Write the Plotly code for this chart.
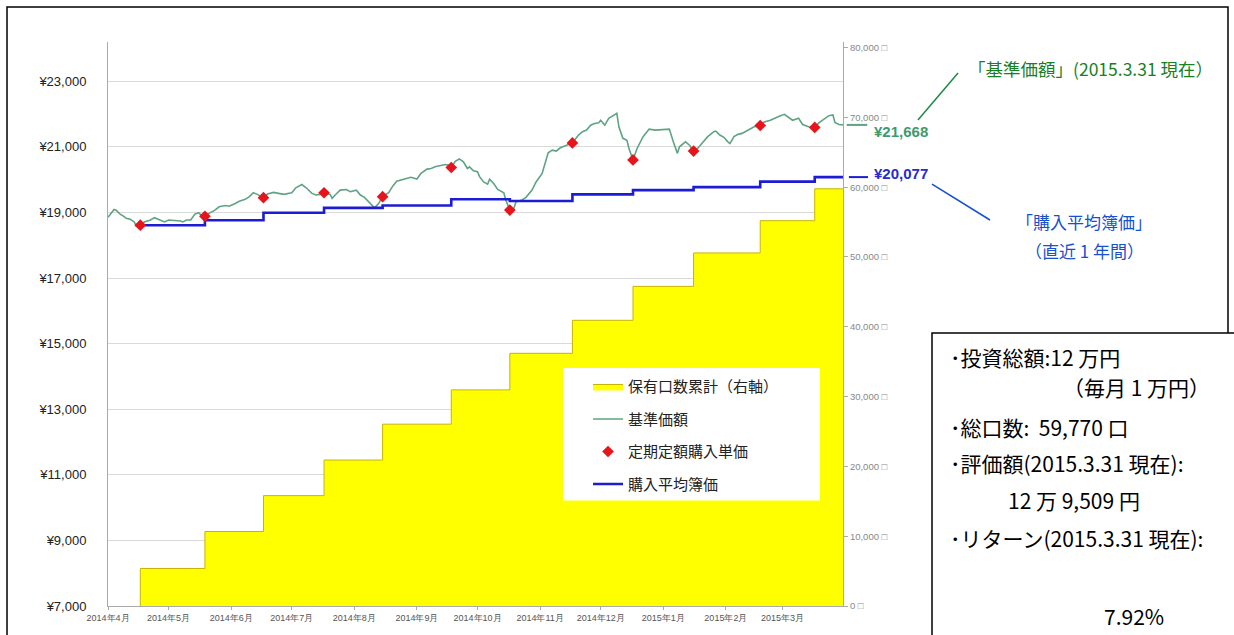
import plotly.graph_objects as go

# 基準価額 (daily NAV, yen per 10,000 units)
nav_dates = [
    "2014-04-01", "2014-04-04", "2014-04-05", "2014-04-07", "2014-04-09", "2014-04-10",
    "2014-04-12", "2014-04-14", "2014-04-15", "2014-04-17", "2014-04-19", "2014-04-22",
    "2014-04-24", "2014-04-27", "2014-04-29", "2014-05-01", "2014-05-03", "2014-05-07",
    "2014-05-08", "2014-05-10", "2014-05-12", "2014-05-14", "2014-05-16", "2014-05-17",
    "2014-05-19", "2014-05-21", "2014-05-24", "2014-05-26", "2014-05-29", "2014-05-31",
    "2014-06-03", "2014-06-05", "2014-06-08", "2014-06-10", "2014-06-12", "2014-06-14",
    "2014-06-17", "2014-06-19", "2014-06-22", "2014-06-25", "2014-06-27", "2014-07-01",
    "2014-07-03", "2014-07-06", "2014-07-08", "2014-07-11", "2014-07-13", "2014-07-15",
    "2014-07-17", "2014-07-20", "2014-07-21", "2014-07-23", "2014-07-25", "2014-07-28",
    "2014-07-30", "2014-08-02", "2014-08-04", "2014-08-06", "2014-08-09", "2014-08-11",
    "2014-08-13", "2014-08-15", "2014-08-18", "2014-08-20", "2014-08-22", "2014-08-24",
    "2014-08-27", "2014-08-29", "2014-09-01", "2014-09-03", "2014-09-06", "2014-09-08",
    "2014-09-10", "2014-09-13", "2014-09-15", "2014-09-17", "2014-09-18", "2014-09-20",
    "2014-09-22", "2014-09-24", "2014-09-26", "2014-09-27", "2014-09-29", "2014-10-01",
    "2014-10-02", "2014-10-04", "2014-10-06", "2014-10-07", "2014-10-09", "2014-10-11",
    "2014-10-14", "2014-10-15", "2014-10-17", "2014-10-19", "2014-10-20", "2014-10-23",
    "2014-10-25", "2014-10-28", "2014-10-30", "2014-11-02", "2014-11-03", "2014-11-05",
    "2014-11-07", "2014-11-09", "2014-11-11", "2014-11-13", "2014-11-17", "2014-11-20",
    "2014-11-22", "2014-11-24", "2014-11-26", "2014-11-28", "2014-11-30", "2014-12-01",
    "2014-12-03", "2014-12-05", "2014-12-07", "2014-12-09", "2014-12-10", "2014-12-12",
    "2014-12-14", "2014-12-15", "2014-12-17", "2014-12-19", "2014-12-22", "2014-12-25",
    "2014-12-28", "2014-12-31", "2015-01-04", "2015-01-06", "2015-01-07", "2015-01-08",
    "2015-01-09", "2015-01-12", "2015-01-14", "2015-01-16", "2015-01-18", "2015-01-21",
    "2015-01-23", "2015-01-26", "2015-01-27", "2015-01-29", "2015-01-31", "2015-02-02",
    "2015-02-03", "2015-02-05", "2015-02-07", "2015-02-09", "2015-02-11", "2015-02-13",
    "2015-02-15", "2015-02-18", "2015-02-20", "2015-02-23", "2015-02-25", "2015-02-28",
    "2015-03-02", "2015-03-04", "2015-03-06", "2015-03-09", "2015-03-11", "2015-03-14",
    "2015-03-17", "2015-03-19", "2015-03-21", "2015-03-24", "2015-03-26", "2015-03-27",
    "2015-03-29", "2015-03-31",
]
nav_values = [
    18850, 19090, 19070, 18950, 18870, 18820,
    18790, 18710, 18580, 18610, 18710, 18770,
    18840, 18770, 18710, 18770, 18760, 18740,
    18710, 18770, 18770, 18950, 18990, 18920,
    18880, 18970, 19070, 19170, 19210, 19190,
    19270, 19340, 19400, 19480, 19600, 19550,
    19450, 19560, 19610, 19580, 19550, 19600,
    19750, 19850, 19760, 19580, 19530, 19550,
    19600, 19550, 19430, 19560, 19680, 19700,
    19630, 19680, 19530, 19460, 19270, 19140,
    19270, 19480, 19600, 19800, 19950, 19980,
    20040, 20070, 20020, 20190, 20320, 20340,
    20390, 20420, 20460, 20440, 20370, 20560,
    20630, 20540, 20340, 20390, 20270, 20240,
    20090, 19930, 19860, 20010, 19880, 19700,
    19600, 19380, 19070, 19120, 19320, 19380,
    19460, 19680, 19930, 20190, 20410, 20820,
    20900, 20870, 20970, 21020, 21120, 21360,
    21460, 21510, 21660, 21710, 21730, 21810,
    21660, 21870, 21940, 22020, 21610, 21260,
    21200, 20950, 20600, 20950, 21310, 21540,
    21510, 21530, 21540, 21150, 20950, 20800,
    21000, 21150, 21050, 20870, 20950, 21170,
    21310, 21460, 21480, 21360, 21290, 21150,
    21100, 21310, 21380, 21410, 21480, 21540,
    21610, 21650, 21760, 21810, 21870, 21950,
    21990, 21910, 21810, 21870, 21680, 21610,
    21590, 21730, 21810, 21950, 21970, 21740,
    21680, 21668,
]

# 定期定額購入 (monthly 10,000-yen purchases)
buy_dates = [
    "2014-04-17", "2014-05-19", "2014-06-17", "2014-07-17", "2014-08-15", "2014-09-18",
    "2014-10-17", "2014-11-17", "2014-12-17", "2015-01-16", "2015-02-18", "2015-03-17",
]
buy_prices = [18610, 18880, 19450, 19600, 19480, 20370, 19070, 21120, 20600, 20870, 21650, 21590]
cum_units = [5370, 10670, 15810, 20910, 26050, 30960, 36200, 40930, 45790, 50580, 55200, 59770]
avg_cost = [18610, 18760, 18990, 19140, 19210, 19400, 19350, 19550, 19680, 19770, 19940, 20077]
end_date = "2015-03-31"
start_date = "2014-04-01"

latest_nav = 21668
latest_avg = 20077

month_ticks = [
    "2014-04-01", "2014-05-01", "2014-06-01", "2014-07-01", "2014-08-01", "2014-09-01",
    "2014-10-01", "2014-11-01", "2014-12-01", "2015-01-01", "2015-02-01", "2015-03-01",
]
month_labels = [
    "2014年4月", "2014年5月", "2014年6月", "2014年7月", "2014年8月", "2014年9月",
    "2014年10月", "2014年11月", "2014年12月", "2015年1月", "2015年2月", "2015年3月",
]
price_ticks = [7000, 9000, 11000, 13000, 15000, 17000, 19000, 21000, 23000]
price_labels = ["¥{:,}".format(v) for v in price_ticks]
unit_ticks = [0, 10000, 20000, 30000, 40000, 50000, 60000, 70000, 80000]
unit_labels = ["{:,} □".format(v) for v in unit_ticks]

GREEN = "#5ea483"
BLUE = "#1c1cd4"
JP = "Noto Sans CJK JP, sans-serif"
LAT = "Liberation Sans, Arial, sans-serif"

fig = go.Figure()

# cumulative units held (right axis) - base subplot, drawn beneath the price lines
fig.add_trace(go.Scatter(
    x=[buy_dates[0]] + buy_dates + [end_date],
    y=[0] + cum_units + [cum_units[-1]],
    mode="lines", line_shape="hv",
    line=dict(color="#c9b400", width=1),
    fill="tozeroy", fillcolor="#ffff00",
    name="保有口数累計（右軸）", legendgroup="a", legendrank=1,
    yaxis="y",
))
fig.add_trace(go.Scatter(
    x=nav_dates, y=nav_values, mode="lines",
    line=dict(color=GREEN, width=1.6),
    name="基準価額", legendgroup="b", legendrank=2,
    yaxis="y2",
))
fig.add_trace(go.Scatter(
    x=buy_dates + [end_date], y=avg_cost + [avg_cost[-1]],
    mode="lines", line_shape="hv",
    line=dict(color=BLUE, width=2.6),
    name="購入平均簿価", legendgroup="d", legendrank=4,
    yaxis="y2",
))
fig.add_trace(go.Scatter(
    x=buy_dates, y=buy_prices, mode="markers",
    marker=dict(symbol="diamond", color="#e8141c", size=9),
    name="定期定額購入単価", legendgroup="c", legendrank=3,
    yaxis="y2",
))

fig.update_layout(
    width=1234, height=635,
    margin=dict(l=108, r=391, t=42, b=29),
    paper_bgcolor="white", plot_bgcolor="white",
    showlegend=True, hovermode=False,
    legend=dict(
        x=0.6531, y=0.418, xanchor="left", yanchor="top",
        bgcolor="rgba(0,0,0,0)", borderwidth=0,
        font=dict(family=JP, size=15, color="#222"),
        tracegroupgap=10, itemwidth=30,
    ),
    xaxis=dict(
        type="date", range=[start_date, end_date],
        tickvals=month_ticks, ticktext=month_labels,
        tickfont=dict(family=LAT, size=9, color="#555"),
        showline=True, linecolor="#aaaaaa", linewidth=1,
        ticks="outside", ticklen=3, tickcolor="#aaaaaa",
        showgrid=False, zeroline=False, anchor="y",
    ),
    yaxis=dict(
        range=[0, 80800], side="right",
        tickvals=unit_ticks, ticktext=unit_labels,
        tickfont=dict(family=LAT, size=9.5, color="#888"),
        showline=True, linecolor="#aaaaaa", linewidth=1,
        ticks="outside", ticklen=4, tickcolor="#aaaaaa",
        showgrid=False, zeroline=False,
    ),
    yaxis2=dict(
        range=[7000, 24196], side="left", overlaying="y",
        tickvals=price_ticks, ticktext=price_labels,
        tickfont=dict(family=LAT, size=13, color="#222"),
        showline=True, linecolor="#aaaaaa", linewidth=1,
        ticks="", ticklabelstandoff=18,
        showgrid=True, gridcolor="#d9d9d9", gridwidth=1, zeroline=False,
    ),
)

shapes = [
    # outer frame
    dict(type="rect", xref="paper", yref="paper", x0=-0.1374, x1=1.5238, y0=-0.1, y1=1.0621,
         line=dict(color="black", width=1.5), fillcolor="rgba(0,0,0,0)", layer="above"),
    # legend panel
    dict(type="rect", xref="paper", yref="paper", x0=0.619, x1=0.9687, y0=0.187, y1=0.422,
         line=dict(width=0), fillcolor="white", layer="above"),
    # summary box
    dict(type="rect", xref="paper", yref="paper", x0=1.1211, x1=1.5401, y0=-0.1, y1=0.484,
         line=dict(color="black", width=1.5), fillcolor="white", layer="above"),
    # short value markers beside the right axis
    dict(type="line", xref="paper", yref="y2", x0=1.005, x1=1.033, y0=latest_nav, y1=latest_nav,
         line=dict(color=GREEN, width=2)),
    dict(type="line", xref="paper", yref="y2", x0=1.008, x1=1.034, y0=latest_avg, y1=latest_avg,
         line=dict(color=BLUE, width=2)),
    # callout leaders
    dict(type="line", xref="paper", yref="paper", x0=1.1565, y0=0.9450, x1=1.1020, y1=0.8617,
         line=dict(color="#1b8a45", width=1.5)),
    dict(type="line", xref="paper", yref="paper", x0=1.1211, y0=0.7482, x1=1.2, y1=0.6844,
         line=dict(color="#1450d0", width=1.5)),
]

annotations = [
    dict(text="¥{:,}".format(latest_nav), xref="paper", yref="y2", x=1.0395, y=latest_nav,
         xanchor="left", yanchor="middle", yshift=-7, showarrow=False,
         font=dict(family=LAT, size=15, color="#3d9a70", weight="bold")),
    dict(text="¥{:,}".format(latest_avg), xref="paper", yref="y2", x=1.0395, y=latest_avg,
         xanchor="left", yanchor="middle", yshift=4, showarrow=False,
         font=dict(family=LAT, size=15, color="#2a2ad0", weight="bold")),
    dict(text="「基準価額」(2015.3.31 現在）", xref="paper", yref="paper", x=1.3374, y=0.9539,
         xanchor="center", yanchor="middle", showarrow=False,
         font=dict(family=JP, size=17.5, color="#17801f")),
    dict(text="「購入平均簿価」", xref="paper", yref="paper", x=1.3279, y=0.6809,
         xanchor="center", yanchor="middle", showarrow=False,
         font=dict(family=JP, size=17, color="#1650d0")),
    dict(text="（直近 1 年間）", xref="paper", yref="paper", x=1.3279, y=0.6312,
         xanchor="center", yanchor="middle", showarrow=False,
         font=dict(family=JP, size=17, color="#1650d0")),
]

box_lines = [
    ("･投資総額:12 万円", 1.1429, 0.4415),
    ("（毎月 1 万円）", 1.2966, 0.3883),
    ("･総口数:  59,770 口", 1.1429, 0.3174),
    ("･評価額(2015.3.31 現在):", 1.1429, 0.2535),
    ("12 万 9,509 円", 1.2218, 0.1879),
    ("･リターン(2015.3.31 現在):", 1.1429, 0.1206),
    ("7.92%", 1.3524, -0.0177),
]
for txt, bx, by in box_lines:
    annotations.append(dict(
        text=txt, xref="paper", yref="paper", x=bx, y=by,
        xanchor="left", yanchor="middle", showarrow=False,
        font=dict(family=JP, size=21, color="black"),
    ))

fig.update_layout(shapes=shapes, annotations=annotations)
fig.write_html("out.html")
